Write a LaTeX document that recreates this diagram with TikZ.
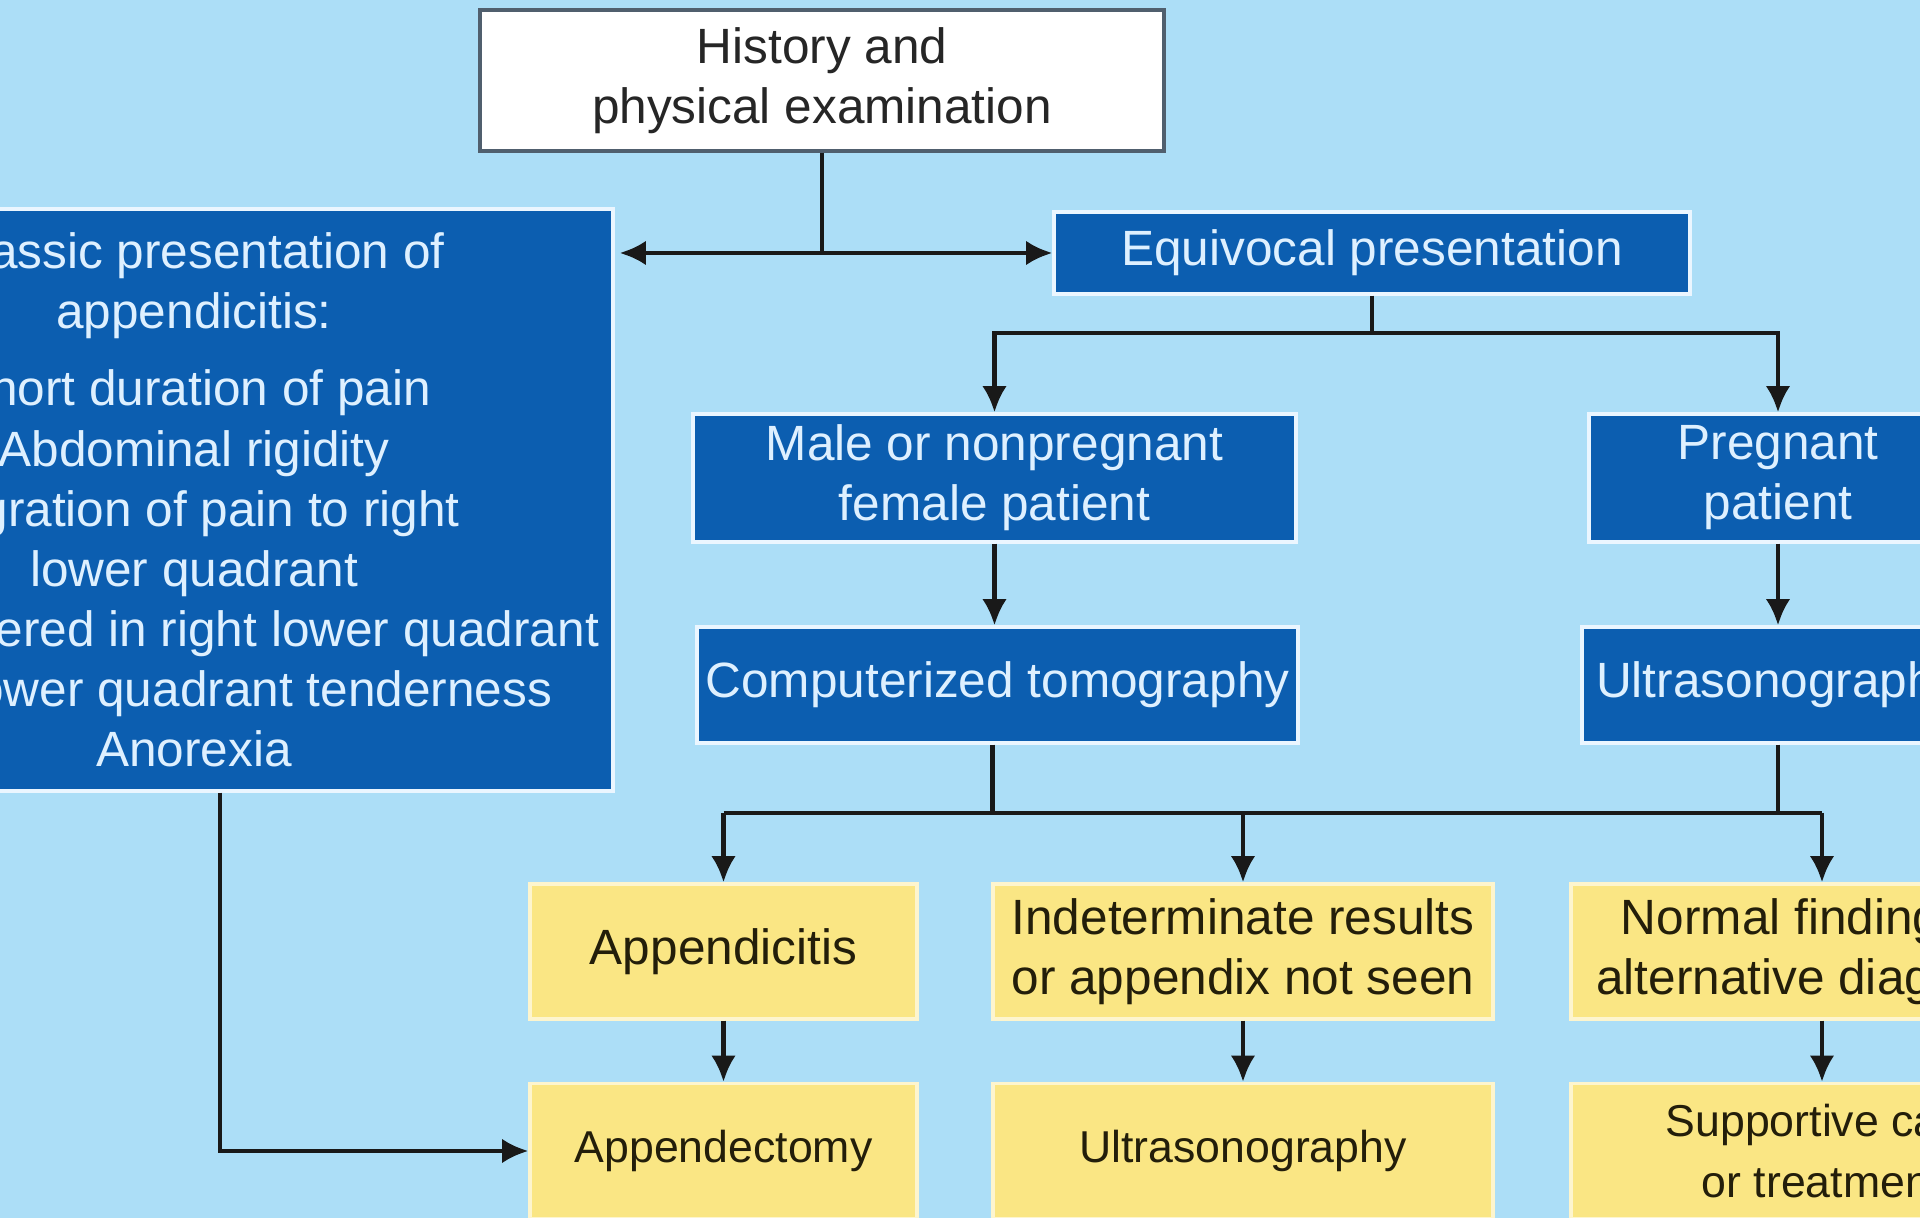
\documentclass[tikz,border=0pt]{standalone}
\usepackage{fontspec}
\setmainfont{Liberation Sans}
\usetikzlibrary{arrows.meta}
\definecolor{bg}{RGB}{172,222,247}
\definecolor{boxblue}{RGB}{12,94,176}
\definecolor{bluetext}{RGB}{222,240,255}
\definecolor{boxyellow}{RGB}{250,230,132}
\definecolor{yellowtext}{RGB}{35,30,10}
\definecolor{topborder}{RGB}{80,95,110}
\tikzset{
  box/.style={rectangle, inner sep=0pt, align=center, font=\fontsize{14.1}{17.1}\selectfont},
  bluebox/.style={box, fill=boxblue, draw=bluetext!60!white, line width=0.9pt, text=bluetext},
  yelbox/.style={box, fill=boxyellow, draw=boxyellow!40!white, line width=0.9pt, text=yellowtext},
  topbox/.style={box, fill=white, draw=topborder, line width=0.9pt, text=black!85},
  smalltext/.style={font=\fontsize{12.7}{17.2}\selectfont},
  conn/.style={line width=1.3pt, draw=black!90},
  arr/.style={conn, -{Latex[length=7.5pt,width=7pt]}},
}
\begin{document}
\begin{tikzpicture}[x=0.1mm,y=-0.1mm]
\useasboundingbox (0,0) rectangle (1920,1218);
\fill[bg] (0,0) rectangle (1920,1218);
\clip (0,0) rectangle (1920,1218);

\node[topbox, minimum width=68.4mm, minimum height=14.1mm] (top) at (822,80.5) {History and\\physical examination};
\node[bluebox, minimum width=83.8mm, minimum height=58.2mm] (classic) at (194,500)
  {Classic presentation of\\appendicitis:\\[4.8pt]Short duration of pain\\Abdominal rigidity\\Migration of pain to right\\lower quadrant\\Pain centered in right lower quadrant\\Right lower quadrant tenderness\\Anorexia};
\node[bluebox, minimum width=63.6mm, minimum height=8.2mm] (equiv) at (1372,253) {Equivocal presentation};
\node[bluebox, minimum width=60.3mm, minimum height=12.8mm] (male) at (994.5,478) {Male or nonpregnant\\female patient};
\node[bluebox, minimum width=37.8mm, minimum height=12.8mm] (preg) at (1778,478) {Pregnant\\patient};
\node[bluebox, minimum width=60.1mm, minimum height=11.6mm] (ct) at (997.5,685) {Computerized tomography};
\node[bluebox, minimum width=39.2mm, minimum height=11.6mm] (usb) at (1778,685) {Ultrasonography};

\node[yelbox, minimum width=38.7mm, minimum height=13.5mm] (appd) at (723.5,951.5) {Appendicitis};
\node[yelbox, minimum width=50mm, minimum height=13.5mm] (indet) at (1243,951.5) {Indeterminate results\\or appendix not seen};
\node[yelbox, minimum width=50.2mm, minimum height=13.5mm] (norm) at (1822,951.5) {Normal findings or\\alternative diagnosis};
\node[yelbox, smalltext, minimum width=38.7mm, minimum height=13.5mm] (apx) at (723.5,1151) {Appendectomy};
\node[yelbox, smalltext, minimum width=50mm, minimum height=13.5mm] (usy) at (1243,1151) {Ultrasonography};
\node[yelbox, smalltext, minimum width=50.2mm, minimum height=13.5mm] (supp) at (1822,1151) {Supportive care\\or treatment};

\coordinate (j1) at (822,253);
\draw[conn] (top.south) -- (j1);
\draw[arr] (j1) -- ([xshift=0.5mm]j1 -| classic.east);
\draw[arr] (j1) -- (j1 -| equiv.west);

\coordinate (j2) at (1372,333);
\draw[conn] (equiv.south) -- (j2);
\draw[arr] (j2) -| (male.north);
\draw[arr] (j2) -| (preg.north);

\draw[arr] (male.south) -- (male.south |- ct.north);
\draw[arr] (preg.south) -- (usb.north);

\coordinate (j3) at (1000,813);
\draw[conn] ([xshift=-0.5mm]ct.south) -- ([xshift=-0.5mm]ct.south |- j3);
\draw[conn] (usb.south) -- (usb.south |- j3);
\draw[conn] (appd.north |- j3) -- (norm.north |- j3);
\draw[arr] (appd.north |- j3) -- (appd.north);
\draw[arr] (indet.north |- j3) -- (indet.north);
\draw[arr] (norm.north |- j3) -- (norm.north);

\draw[arr] (appd.south) -- (apx.north);
\draw[arr] (indet.south) -- (usy.north);
\draw[arr] (norm.south) -- (supp.north);

\draw[arr] ([xshift=2.6mm]classic.south) |- (apx.west);
\end{tikzpicture}
\end{document}
